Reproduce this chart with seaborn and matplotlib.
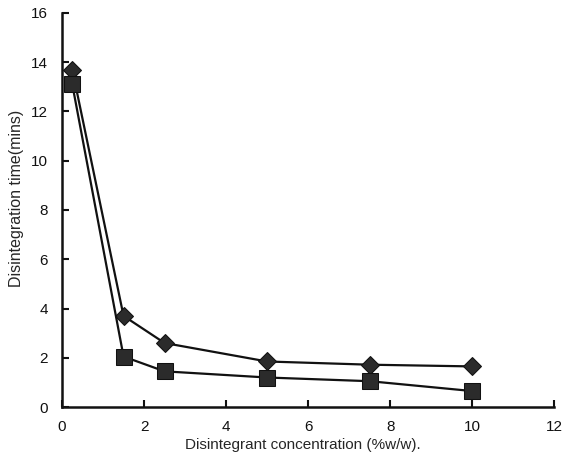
import matplotlib
matplotlib.use("Agg")
import matplotlib.pyplot as plt
import pandas as pd
import seaborn as sns

# disintegrant concentration (%w/w)
conc = [0.25, 1.5, 2.5, 5.0, 7.5, 10.0]
# disintegration time (mins)
time_diamond = [13.7, 3.7, 2.6, 1.85, 1.72, 1.65]
time_square = [13.1, 2.05, 1.45, 1.2, 1.05, 0.65]

x_ticks = [0, 2, 4, 6, 8, 10, 12]
y_ticks = [0, 2, 4, 6, 8, 10, 12, 14, 16]

df_d = pd.DataFrame({"conc": conc, "time": time_diamond})
df_s = pd.DataFrame({"conc": conc, "time": time_square})

sns.set_style("ticks")
plt.rcParams["font.family"] = ["Liberation Sans", "DejaVu Sans"]

fig = plt.figure(figsize=(5.69, 4.61), dpi=100)
ax = fig.add_axes([0.109, 0.117, 0.865, 0.855])

sns.lineplot(data=df_d, x="conc", y="time", ax=ax, color="#111111", lw=1.6,
             marker="D", markersize=9, markerfacecolor="#2b2b2b",
             markeredgecolor="#111111")
sns.lineplot(data=df_s, x="conc", y="time", ax=ax, color="#111111", lw=1.6,
             marker="s", markersize=11, markerfacecolor="#2b2b2b",
             markeredgecolor="#111111")

ax.set_xlim(0, 12)
ax.set_ylim(0, 16)
ax.set_xticks(x_ticks)
ax.set_yticks(y_ticks)
ax.tick_params(direction="in", length=5, width=1.5, labelsize=11, colors="#111111")
ax.tick_params(axis="x", pad=9)
ax.tick_params(axis="y", pad=10)
for s in ["left", "bottom"]:
    ax.spines[s].set_linewidth(1.8)
    ax.spines[s].set_color("#111111")
sns.despine(ax=ax)

ax.set_xlabel("Disintegrant concentration (%w/w).", fontsize=11)
ax.set_ylabel("Disintegration time(mins)", fontsize=11.5)
ax.xaxis.set_label_coords(0.49, -0.078)
ax.yaxis.set_label_coords(-0.077, 0.53)

fig.savefig("out.png", dpi=100)
